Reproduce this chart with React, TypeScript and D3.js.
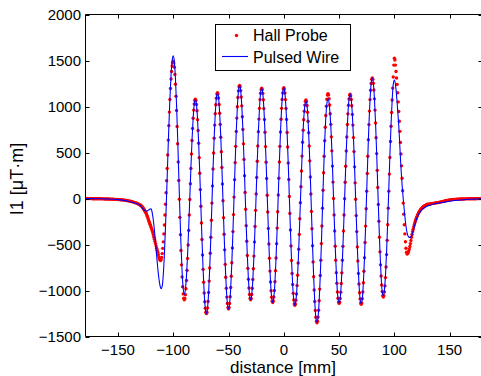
import React from "react";
import * as d3 from "d3";

const W = 481;
const H = 376;

const xTicks = [-150, -100, -50, 0, 50, 100, 150];
const yTicks = [-1500, -1000, -500, 0, 500, 1000, 1500, 2000];
const seriesNames = ["Hall Probe", "Pulsed Wire"];

// Hall probe: x = -180 + i (1 mm)
const hallLeftTail = [
  0, 0, 0, -1, -1, -1, -1, -2, -2, -2,
  -2, -3, -3, -3, -3, -4, -4, -4, -5, -5,
  -5, -6, -6, -7, -7, -8, -8, -9, -9, -10,
  -11, -12, -13, -14, -15, -16, -18, -20, -22, -24,
  -27, -29, -32, -35, -39, -43, -47, -52, -57, -63,
];
// Hall probe: x = -130 + i*0.5
const hallCore = [
  // -130 .. -112
  -70, -74, -79, -85, -92, -100, -108, -117, -127, -138, -150, -163, -177, -193, -210, -227, -247, -263, -280, -297,
  -314, -332, -350, -373, -396, -420, -444, -467, -490, -515, -540, -563, -585, -610, -635, -655, -668,
  // -111.5 .. -100
  -674, -665, -640, -599, -542, -471, -385, -288, -180, -62, 63, 194, 327, 474, 635, 792, 939, 1076, 1196, 1299,
  1381, 1441, 1477, 1490,
  // -99.5 .. -90
  1474, 1427, 1349, 1243, 1111, 956, 783, 595, 397, 195, -7, -205, -393, -566, -721, -853, -959, -1037, -1084, -1100,
  // -89.5 .. -80
  -1087, -1047, -981, -892, -781, -651, -505, -347, -180, -10, 160, 327, 485, 631, 761, 872, 961, 1027, 1067, 1080,
  // -79.5 .. -70
  1066, 1023, 953, 857, 739, 600, 444, 275, 97, -85, -267, -445, -614, -770, -909, -1027, -1123, -1193, -1236, -1250,
  // -69.5 .. -60
  -1236, -1191, -1119, -1021, -898, -756, -595, -421, -237, -50, 137, 321, 495, 656, 798, 921, 1019, 1091, 1136, 1150,
  // -59.5 .. -50
  1136, 1092, 1022, 926, 806, 666, 508, 338, 158, -25, -208, -388, -558, -716, -856, -976, -1072, -1142, -1186, -1200,
  // -49.5 .. -40
  -1185, -1140, -1068, -968, -844, -699, -537, -360, -175, 15, 205, 390, 567, 729, 874, 998, 1098, 1170, 1215, 1230,
  // -39.5 .. -30
  1216, 1173, 1103, 1007, 889, 750, 594, 425, 247, 65, -117, -295, -464, -620, -759, -877, -973, -1043, -1086, -1100,
  // -29.5 .. -20
  -1086, -1044, -975, -880, -763, -626, -472, -305, -129, 50, 229, 405, 572, 726, 863, 980, 1075, 1144, 1186, 1200,
  // -19.5 .. -10
  1186, 1143, 1073, 977, 859, 720, 564, 395, 217, 35, -147, -325, -494, -650, -789, -907, -1003, -1073, -1116, -1130,
  // -9.5 .. 0
  -1113, -1070, -1000, -904, -786, -647, -491, -322, -144, 38, 220, 398, 567, 723, 862, 980, 1076, 1146, 1189, 1205,
  // 0.5 .. 10
  1190, 1146, 1075, 978, 858, 717, 559, 387, 206, 22, -162, -343, -515, -673, -814, -934, -1031, -1102, -1146, -1160,
  // 10.5 .. 20
  -1147, -1105, -1038, -947, -833, -701, -551, -390, -219, -45, 129, 300, 461, 611, 743, 857, 948, 1015, 1057, 1070,
  // 20.5 .. 30
  1055, 1011, 938, 839, 715, 571, 409, 234, 49, -140, -329, -514, -689, -851, -995, -1119, -1218, -1291, -1335, -1350,
  // 30.5 .. 40
  -1335, -1289, -1214, -1112, -985, -837, -670, -490, -299, -105, 89, 280, 460, 627, 775, 902, 1004, 1079, 1125, 1140,
  // 40.5 .. 50
  1126, 1084, 1016, 922, 806, 670, 518, 352, 178, 0, -178, -352, -518, -670, -806, -922, -1016, -1084, -1126, -1140,
  // 50.5 .. 60
  -1128, -1086, -1018, -924, -808, -672, -520, -354, -180, -2, 176, 350, 516, 668, 804, 920, 1014, 1082, 1124, 1135,
  // 60.5 .. 70
  1118, 1076, 1008, 914, 798, 662, 510, 344, 170, -8, -186, -360, -526, -678, -814, -930, -1024, -1092, -1134, -1150,
  // 70.5 .. 80
  -1135, -1090, -1016, -915, -790, -643, -478, -300, -112, 80, 272, 460, 638, 803, 950, 1075, 1176, 1250, 1295, 1310,
  // 80.5 .. 90
  1296, 1252, 1180, 1083, 961, 820, 660, 488, 306, 120, -66, -248, -420, -580, -721, -843, -940, -1012, -1056, -1070,
  // 90.5 .. 100
  -1056, -1015, -950, -860, -745, -610, -455, -285, -105, 80, 265, 445, 620, 785, 935, 1070, 1200, 1320, 1450, 1525,
  // 100.5 .. 112
  1505, 1450, 1380, 1310, 1240, 1150, 1050, 945, 840, 730, 610, 485, 355, 220, 85, -50, -170, -285, -385, -470,
  -540, -585, -603, -598,
  // 112.5 .. 130
  -588, -572, -550, -522, -490, -456, -422, -390, -360, -333, -308, -285, -264, -244, -226, -209, -194, -180, -167, -155,
  -144, -134, -125, -117, -110, -103, -97, -92, -87, -83, -79, -75, -72, -69, -66, -63,
];
// Hall probe: x = 131 + i (1 mm)
const hallRightTail = [
  -61, -59, -57, -55, -53, -51, -49, -47, -45, -43,
  -40, -37, -34, -31, -28, -25, -22, -20, -18, -16,
  -14, -12, -11, -10, -9, -8, -7, -7, -6, -6,
  -5, -5, -5, -4, -4, -4, -3, -3, -3, -3,
  -2, -2, -2, -2, -1, -1, -1, -1, 0, 0,
];

// Pulsed wire: x = -180 + 5i
const wireLeftTail = [0, -1, -2, -3, -5, -8, -12, -20, -32, -50];
// Pulsed wire: x = -130 + i (1 mm)
const wireCore = [
  -75, -88, -102, -116, -128, -136, -138, -132, -122, -114,
  -113, -156, -237, -350, -483, -624, -757, -867, -944, -980,
  -955, -828, -605, -306, 42, 414, 773, 1089, 1339, 1496,
  1550, 1487, 1303, 1016, 655, 255, -145, -506, -793, -977,
  -1040, -988, -838, -604, -309, 18, 344, 639, 873, 1023,
  1075, 1023, 857, 600, 275, -85, -445, -770, -1027, -1193,
  -1250, -1191, -1021, -756, -421, -50, 321, 656, 921, 1091,
  1150, 1092, 926, 666, 338, -25, -388, -716, -976, -1142,
  -1200, -1140, -968, -699, -360, 15, 390, 729, 998, 1170,
  1230, 1173, 1007, 750, 425, 65, -295, -620, -877, -1043,
  -1100, -1044, -880, -626, -305, 50, 405, 726, 980, 1144,
  1200, 1143, 977, 720, 395, 35, -325, -650, -907, -1073,
  -1130, -1070, -904, -647, -322, 38, 398, 723, 980, 1146,
  1205, 1146, 978, 717, 387, 22, -343, -673, -934, -1102,
  -1160, -1105, -947, -701, -390, -45, 300, 611, 857, 1005,
  1058, 1011, 839, 571, 234, -140, -514, -851, -1119, -1291,
  -1344, -1289, -1112, -837, -490, -105, 280, 627, 880, 1035,
  1085, 1035, 890, 670, 352, 0, -352, -670, -922, -1084,
  -1135, -1086, -924, -672, -354, -2, 350, 668, 920, 1082,
  1135, 1076, 914, 662, 344, -8, -360, -678, -930, -1092,
  -1145, -1090, -915, -643, -300, 80, 460, 803, 1075, 1250,
  1310, 1252, 1083, 820, 488, 120, -248, -580, -843, -1012,
  -1056, -997, -830, -571, -244, 118, 480, 807, 1066, 1240,
  1288, 1240, 1120, 960, 790, 560, 330, 150, 0, -130,
  -250, -340, -395, -418, -423, -418, -395, -355, -310, -265,
  -225, -195, -170, -150, -135, -122, -112, -103, -95, -88,
  -82,
];
// Pulsed wire: x = 135 + 5i
const wireRightTail = [-62, -50, -40, -30, -22, -16, -11, -8, -5, -3];

const FONT = "'Liberation Sans', Arial, Helvetica, sans-serif";

const fmt = (t: number) => String(t).replace("-", "\u2212");

export default function App() {
  const x = d3.scaleLinear().domain([-180, 180]).range([84.8, 482.8]);
  const y = d3.scaleLinear().domain([-1500, 2000]).range([336.5, 14.5]);

  const hall: [number, number][] = [
    ...hallLeftTail.map((v, i) => [-180 + i, v] as [number, number]),
    ...hallCore.map((v, i) => [-130 + i * 0.5, v] as [number, number]),
    ...hallRightTail.map((v, i) => [131 + i, v] as [number, number]),
  ];
  const wire: [number, number][] = [
    ...wireLeftTail.map((v, i) => [-180 + 5 * i, v] as [number, number]),
    ...wireCore.map((v, i) => [-130 + i, v] as [number, number]),
    ...wireRightTail.map((v, i) => [135 + 5 * i, v] as [number, number]),
  ];

  const line = d3
    .line<[number, number]>()
    .x((d) => x(d[0]))
    .y((d) => y(d[1]))
    .curve(d3.curveMonotoneX);

  const left = 85.5;
  const right = 482.5;
  const top = 14.5;
  const bottom = 336.5;
  const tl = 4;

  return (
    <svg
      width={W}
      height={H}
      style={{ position: "absolute", left: 0, top: 0, display: "block", background: "#fff" }}
    >
      <defs>
        <clipPath id="plotclip">
          <rect x={left} y={top} width={right - left} height={bottom - top} />
        </clipPath>
      </defs>
      <rect x={0} y={0} width={W} height={H} fill="#fff" />

      <g clipPath="url(#plotclip)">
        {hall.map((d, i) => (
          <circle key={i} cx={x(d[0])} cy={y(d[1])} r={1.7} fill="#ff0000" />
        ))}
        <path d={line(wire) || ""} fill="none" stroke="#0000ff" strokeWidth={1.1} />
      </g>

      {/* frame */}
      <g stroke="#000" strokeWidth={1} fill="none">
        <line x1={left} y1={top} x2={right} y2={top} />
        <line x1={left} y1={bottom} x2={right} y2={bottom} />
        <line x1={left} y1={top} x2={left} y2={bottom} />
        <line x1={right} y1={top} x2={right} y2={bottom} />
        {xTicks.map((t) => {
          const px = Math.round(x(t)) + 0.5;
          return (
            <g key={"xt" + t}>
              <line x1={px} y1={bottom} x2={px} y2={bottom - tl} />
              <line x1={px} y1={top} x2={px} y2={top + tl} />
            </g>
          );
        })}
        {yTicks.map((t) => {
          const py = Math.round(y(t)) + 0.5;
          return (
            <g key={"yt" + t}>
              <line x1={left} y1={py} x2={left + tl} y2={py} />
              <line x1={right} y1={py} x2={right - tl} y2={py} />
            </g>
          );
        })}
      </g>

      {/* tick labels */}
      <g fontFamily={FONT} fontSize={15} fill="#000">
        {xTicks.map((t) => (
          <text key={"xl" + t} x={x(t)} y={354.5} textAnchor="middle">
            {fmt(t)}
          </text>
        ))}
        {yTicks.map((t) => (
          <text key={"yl" + t} x={81} y={y(t) + 5.5} textAnchor="end">
            {fmt(t)}
          </text>
        ))}
      </g>

      {/* axis labels */}
      <text x={283} y={372.5} textAnchor="middle" fontFamily={FONT} fontSize={17} fill="#000">
        distance [mm]
      </text>
      <text
        transform="translate(23,179) rotate(-90)"
        textAnchor="middle"
        fontFamily={FONT}
        fontSize={18}
        fill="#000"
      >
        I1 [μT·m]
      </text>

      {/* legend */}
      <g fontFamily={FONT} fontSize={16}>
        <rect x={215.5} y={24.5} width={135} height={46} fill="#fff" stroke="#000" strokeWidth={1} />
        <circle cx={236.5} cy={35.5} r={1.7} fill="#ff0000" />
        <text x={253} y={41}>{seriesNames[0]}</text>
        <line x1={222} y1={56.5} x2={248} y2={56.5} stroke="#0000ff" strokeWidth={1.1} />
        <text x={253} y={62.5}>{seriesNames[1]}</text>
      </g>
    </svg>
  );
}
